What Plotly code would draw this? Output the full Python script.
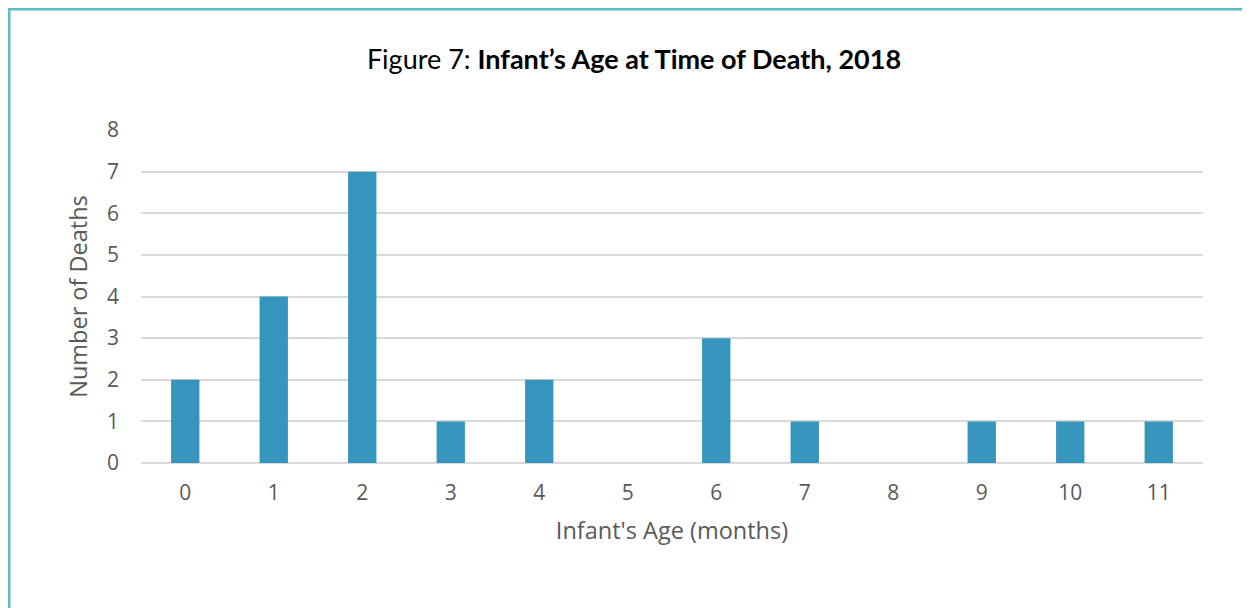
import plotly.graph_objects as go

# data
ages = ["0", "1", "2", "3", "4", "5", "6", "7", "8", "9", "10", "11"]
deaths = [2, 4, 7, 1, 2, 0, 3, 1, 0, 1, 1, 1]
y_ticks = [0, 1, 2, 3, 4, 5, 6, 7, 8]

BAR_COLOR = "#3595BC"
TEXT_GREY = "#595959"
GRID = "#D9D9D9"
BORDER = "#5BBCC6"

# page body has an 8px margin, so figure coords are screen coords minus 8
OFF = 8
W, H = 1250, 608
L, T = 141 - OFF, 130 - OFF
pw, ph = 1062, 333
R, B = W - L - pw, H - T - ph

fig = go.Figure(go.Bar(
    x=ages,
    y=deaths,
    width=0.32,
    marker=dict(color=BAR_COLOR, line=dict(width=0)),
    hoverinfo="x+y",
))

fig.update_layout(
    width=W, height=H,
    margin=dict(l=L, r=R, t=T, b=B),
    paper_bgcolor="white",
    plot_bgcolor="white",
    font=dict(family="Open Sans, sans-serif", color=TEXT_GREY, size=21),
    showlegend=False,
    title=dict(
        text="Figure 7: <b>Infant’s Age at Time of Death, 2018</b>",
        font=dict(family="Lato, sans-serif", size=27, color="#000000"),
        x=(634 - OFF) / W, xanchor="center",
        y=1 - (60 - OFF) / H, yanchor="middle",
    ),
    xaxis=dict(
        title=dict(text="Infant's Age (months)", font=dict(size=23.5, color=TEXT_GREY), standoff=17),
        showgrid=False, showline=False, ticks="", ticklabelstandoff=15,
    ),
    yaxis=dict(
        title=dict(text="Number of Deaths", font=dict(size=23.5, color=TEXT_GREY), standoff=12),
        range=[0, 8], tickvals=y_ticks,
        gridcolor=GRID, gridwidth=2,
        zeroline=True, zerolinecolor=GRID, zerolinewidth=2,
        showline=False, ticks="", ticklabelstandoff=21,
    ),
    shapes=[dict(
        type="rect", xref="paper", yref="paper",
        x0=(9 - OFF - L) / pw, x1=(1247 - OFF - L) / pw,
        y0=(ph - (700 - T)) / ph, y1=1 + (T - (9 - OFF)) / ph,
        line=dict(color=BORDER, width=3), fillcolor="rgba(0,0,0,0)",
        layer="below",
    )],
)

fig.write_html("out.html")
